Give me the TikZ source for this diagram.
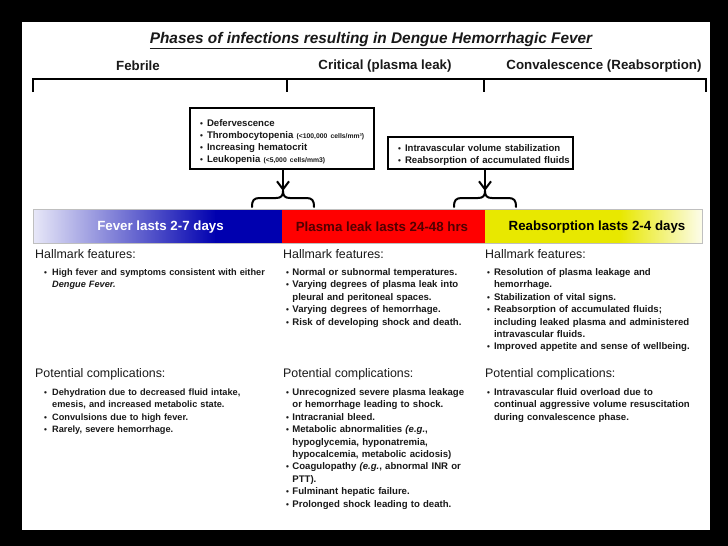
\documentclass[tikz,border=0pt]{standalone}
\usepackage{fontspec}
\setmainfont{Liberation Sans}
\usetikzlibrary{arrows.meta}
\definecolor{barblue}{RGB}{0,0,175}
\definecolor{barlight}{RGB}{232,232,248}
\definecolor{barred}{RGB}{255,0,0}
\definecolor{baryellow}{RGB}{232,232,0}
\definecolor{yellowend}{RGB}{252,252,235}
\definecolor{plasmatext}{RGB}{80,0,0}
\definecolor{txt}{RGB}{25,25,25}
\newlength\bulw
\setlength\bulw{7pt}
\newcommand\bul[1]{\noindent\hangindent=\bulw\hangafter=1\makebox[\bulw][l]{\fontsize{8.2}{8}\selectfont\textbullet}#1\par}
\newcommand\bbul[1]{\noindent\makebox[\bulw][l]{\fontsize{8.2}{8}\selectfont\textbullet}\mbox{#1}\par}
\begin{document}
\begin{tikzpicture}[x=1pt,y=-1pt,
  phase/.style={font=\bfseries\fontsize{13.3}{15}\selectfont, inner sep=0pt, text=txt},
  hd/.style={font=\fontsize{12.4}{14}\selectfont, inner sep=0pt, anchor=west, text=txt},
  blist/.style={font=\bfseries\fontsize{9.6}{12.4}\selectfont, inner sep=0pt, anchor=base west, text width=#1, align=left, text=txt},
  infobox/.style={draw=black, line width=2.5pt, fill=white, inner xsep=10pt, inner ysep=0pt, text=txt, font=\bfseries\fontsize{9.6}{12.3}\selectfont, align=left},
  tl/.style={line width=2.5pt, line join=miter},
  bracepath/.style={line width=2pt, line cap=round},
  downarrow/.style={line width=2pt, -{Straight Barb[length=8pt,width=12pt]}},
  bartext/.style={font=\bfseries\fontsize{13.3}{15}\selectfont, inner sep=0pt}
]
\useasboundingbox (0,0) rectangle (728,546);
\fill[black] (0,0) rectangle (728,546);
\fill[white] (22,22) rectangle (710,530);

% title
\node[font=\bfseries\itshape\fontsize{15.4}{17}\selectfont, inner sep=0pt, text=txt] (title) at (371,41) {\underline{Phases of infections resulting in Dengue Hemorrhagic Fever}};

% phase labels
\node[phase] (febrile) at (138,66) {Febrile};
\node[phase] (critical) at (385,66) {Critical (plasma leak)};
\node[phase] (conval) at (604,66) {Convalescence (Reabsorption)};

% timeline
\draw[tl] (33,92) -- (33,79) -- (706,79) -- (706,92);
\draw[tl] (287,79) -- (287,92);
\draw[tl] (484,79) -- (484,92);

% info boxes
\node[infobox, minimum width=184pt, minimum height=61pt, text width=164pt] (box1) at (282,138.5) {%
\bbul{Defervescence}
\bbul{Thrombocytopenia {\fontsize{6.8}{7}\selectfont (<100,000 cells/mm³)}}
\bbul{Increasing hematocrit}
\bbul{Leukopenia {\fontsize{6.8}{7}\selectfont (<5,000 cells/mm3)}}
\vspace*{-7pt}};
\node[infobox, minimum width=185pt, minimum height=32pt, text width=165pt] (box2) at (480.5,153) {%
\bbul{Intravascular volume stabilization}
\bbul{Reabsorption of accumulated fluids}
\vspace*{-3.5pt}};

% braces
\coordinate (tip1) at (283,191);
\coordinate (tip2) at (485,191);
\draw[bracepath] (252,207) .. controls (252,200) and (254,198) .. (260,198) -- (276,198) .. controls (281,198) and (283,196) .. (tip1) .. controls (283,196) and (285,198) .. (290,198) -- (306,198) .. controls (312,198) and (314,200) .. (314,207);
\draw[bracepath] (454,207) .. controls (454,200) and (456,198) .. (462,198) -- (478,198) .. controls (483,198) and (485,196) .. (tip2) .. controls (485,196) and (487,198) .. (492,198) -- (508,198) .. controls (514,198) and (516,200) .. (516,207);
\draw[downarrow] (box1.south -| tip1) -- (tip1);
\draw[downarrow] (box2.south -| tip2) -- (tip2);

% bar
\shade[left color=barlight, right color=barblue] (33,209) rectangle (216,243);
\fill[barblue] (215,209) rectangle (282.5,243);
\fill[barred] (282,209) rectangle (485.5,243);
\fill[baryellow] (485,209) rectangle (621,243);
\shade[left color=baryellow, right color=yellowend] (620,209) rectangle (702,243);
\draw[black!25, line width=1pt] (33,209) rectangle (702,243);
\node[bartext, text=white] (fever) at (160.5,227) {Fever lasts 2-7 days};
\node[bartext, text=plasmatext] (plasma) at (382,227) {Plasma leak lasts 24-48 hrs};
\node[bartext, text=black] (reabs) at (597,227) {Reabsorption lasts 2-4 days};

% hallmark features
\node[hd] (hf1) at (35,254) {Hallmark features:};
\node[hd] (hf2) at (283,254) {Hallmark features:};
\node[hd] (hf3) at (485,254) {Hallmark features:};
\node[blist=240pt, font=\bfseries\fontsize{9.2}{12.4}\selectfont] (hl1) at (43.8,275.5) {\setlength\bulw{8.2pt}%
\bul{High fever and symptoms consistent with either\newline \textit{Dengue Fever.}}};
\node[blist=205pt] (hl2) at (285.8,275.5) {\setlength\bulw{6.4pt}%
\bul{Normal or subnormal temperatures.}
\bul{Varying degrees of plasma leak into\newline pleural and peritoneal spaces.}
\bul{Varying degrees of hemorrhage.}
\bul{Risk of developing shock and death.}};
\node[blist=215pt] (hl3) at (486.8,275.5) {%
\bul{Resolution of plasma leakage and\newline hemorrhage.}
\bul{Stabilization of vital signs.}
\bul{Reabsorption of accumulated fluids;\newline including leaked plasma and administered\newline intravascular fluids.}
\bul{Improved appetite and sense of wellbeing.}};

% potential complications
\node[hd] (pc1) at (35,374) {Potential complications:};
\node[hd] (pc2) at (283,374) {Potential complications:};
\node[hd] (pc3) at (485,374) {Potential complications:};
\node[blist=240pt, font=\bfseries\fontsize{9.2}{12.4}\selectfont] (cl1) at (43.8,395.5) {\setlength\bulw{8.2pt}%
\bul{Dehydration due to decreased fluid intake,\newline emesis, and increased metabolic state.}
\bul{Convulsions due to high fever.}
\bul{Rarely, severe hemorrhage.}};
\node[blist=205pt] (cl2) at (285.8,395.5) {\setlength\bulw{6.4pt}%
\bul{Unrecognized severe plasma leakage\newline or hemorrhage leading to shock.}
\bul{Intracranial bleed.}
\bul{Metabolic abnormalities \textit{(e.g.},\newline hypoglycemia, hyponatremia,\newline hypocalcemia, metabolic acidosis)}
\bul{Coagulopathy \textit{(e.g.}, abnormal INR or\newline PTT).}
\bul{Fulminant hepatic failure.}
\bul{Prolonged shock leading to death.}};
\node[blist=215pt] (cl3) at (486.8,395.5) {%
\bul{Intravascular fluid overload due to\newline continual aggressive volume resuscitation\newline during convalescence phase.}};
\end{tikzpicture}
\end{document}
